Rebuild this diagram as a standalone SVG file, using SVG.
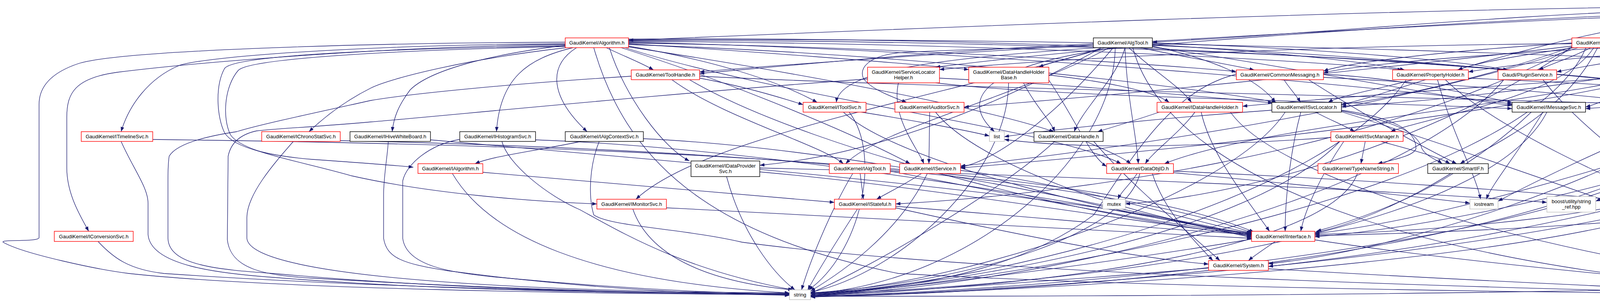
<svg xmlns="http://www.w3.org/2000/svg" width="5659" height="773" viewBox="0 0 5659 773">
<defs>
<marker id="a" markerUnits="userSpaceOnUse" markerWidth="13" markerHeight="10" refX="12" refY="5" orient="auto"><path d="M0,0.5 L12,5 L0,9.5 z" fill="#191970"/></marker>
</defs>
<style>
.n rect{stroke-width:1.4;fill:#fff}
.r rect{stroke:#ff0000}
.b rect{stroke:#000}
.g rect{stroke:#bfbfbf}
.root rect{fill:#bfbfbf;stroke:#000}
text{font-family:"Liberation Sans",Arial,Helvetica,sans-serif;font-size:13px;text-anchor:middle;fill:#000}
#edges path{fill:none;stroke:#191970;stroke-width:1.3;marker-end:url(#a)}
</style>
<rect width="5659" height="773" fill="#fff"/>
<g id="edges">
<path d="M4361,22 C3800,40 3400,85 2950,108"/>
<path d="M4361,16 C3500,25 2400,70 1609,103"/>
<path d="M4365,47 C4300,70 4200,85 4152,97"/>
<path d="M4470,47 C4500,70 4540,85 4566,97"/>
<path d="M4497,30 C4650,50 4760,75 4826,97"/>
<path d="M4497,26 C5000,40 5330,60 5400,100 C5470,140 5500,200 5507,262"/>
<path d="M4410,47 C4380,100 4320,140 4290,172"/>
<path d="M4361,30 C3600,60 2800,120 2395,172"/>
<path d="M4361,34 C3500,70 2300,140 1791,184"/>
<path d="M4436,47 C4450,150 4520,220 4494,262"/>
<path d="M4361,38 C3900,100 3600,230 3434,268"/>
<path d="M4380,47 C4300,150 4150,250 4059,274"/>
<path d="M4497,38 C4650,80 4720,200 4709,262"/>
<path d="M4497,44 C4900,150 5000,300 5000,600 C5000,700 4900,745 4789,752"/>
<path d="M4497,42 C4650,150 4700,390 4519,425"/>
<path d="M1447,112 C1000,114 550,140 460,167 C380,200 330,270 310,337"/>
<path d="M1447,114 C1000,118 500,160 300,185 C190,200 171,240 171,300 L171,430 C171,500 210,560 227,592"/>
<path d="M1447,108 C900,110 300,130 200,163 C120,190 100,230 100,267 L100,608 C100,620 0,612 8,620 C60,650 250,690 330,700 C700,740 1500,752 2021,754"/>
<path d="M1450,122 C1200,150 1000,200 950,225 C880,260 830,300 791,337"/>
<path d="M1447,116 C1250,140 1100,180 1050,230 C1020,270 1008,300 1004,337"/>
<path d="M1467,122 C1350,150 1280,200 1271,337"/>
<path d="M1476,122 C1400,170 1410,250 1503,337"/>
<path d="M1552,122 C1600,145 1640,160 1673,179"/>
<path d="M1447,117 C1000,125 600,140 575,175 C550,220 555,300 575,340 C600,380 700,400 800,408 C900,415 1000,422 1058,428"/>
<path d="M1447,119 C1000,128 640,150 610,180 C575,220 568,300 590,345 C620,390 760,410 900,450 C1100,495 1350,515 1528,522"/>
<path d="M1560,122 C1600,250 1700,380 1765,412"/>
<path d="M1609,118 C1800,150 1980,200 2092,262"/>
<path d="M1609,112 C1900,130 2300,160 2480,178"/>
<path d="M1609,110 C2300,120 2900,160 3165,183"/>
<path d="M1609,106 C2500,110 3300,150 3590,179"/>
<path d="M1609,104 C2600,100 3600,150 3845,179"/>
<path d="M1609,102 C3000,95 4400,150 4798,185"/>
<path d="M1609,114 C2400,140 3100,230 3268,262"/>
<path d="M1590,122 C1900,220 2200,350 2330,419"/>
<path d="M1609,108 C2600,130 3600,230 3871,266"/>
<path d="M1609,100 C3000,90 4300,200 4633,268"/>
<path d="M1600,122 C2000,250 2700,330 2870,419"/>
<path d="M1609,120 C2000,180 2500,270 2698,337"/>
<path d="M1520,122 C1600,400 1800,600 2300,700 C3000,740 4200,752 4731,754"/>
<path d="M2799,112 C2400,130 2000,170 1791,188"/>
<path d="M2920,122 C3000,140 3120,160 3211,179"/>
<path d="M2950,114 C3200,130 3450,150 3596,179"/>
<path d="M2950,110 C3300,120 3700,150 3860,179"/>
<path d="M2820,122 C2780,140 2700,155 2659,172"/>
<path d="M2810,122 C2400,150 2150,180 2141,262"/>
<path d="M2840,122 C2600,250 2250,330 2165,419"/>
<path d="M2890,122 C2950,180 3020,220 3050,262"/>
<path d="M2950,118 C3100,150 3220,200 3265,262"/>
<path d="M2950,120 C3300,170 3700,250 3871,270"/>
<path d="M2850,122 C2700,300 2550,410 2459,428"/>
<path d="M2830,122 C2400,250 1800,350 1628,510"/>
<path d="M2950,116 C3500,140 4400,220 4633,272"/>
<path d="M2880,122 C2860,200 2770,280 2750,337"/>
<path d="M2860,122 C2500,170 2460,260 2546,337"/>
<path d="M2900,122 C3000,500 3800,720 4731,750"/>
<path d="M2855,122 C2850,400 2500,720 2075,752"/>
<path d="M2799,118 C2600,124 2400,128 2300,135 C2220,145 2200,175 2210,200 C2230,230 2290,250 2321,262"/>
<path d="M2880,122 C2885,250 2910,350 2914,419"/>
<path d="M2820,122 C2500,300 2200,400 1945,423"/>
<path d="M4024,110 C3700,130 3450,160 3388,182"/>
<path d="M4030,122 C3900,140 3780,160 3732,179"/>
<path d="M4072,122 C4030,145 3980,160 3939,179"/>
<path d="M4024,112 C3400,115 2700,150 2405,178"/>
<path d="M4024,118 C3500,180 2800,250 2468,274"/>
<path d="M4040,122 C3500,300 2700,400 2459,425"/>
<path d="M4024,120 C3800,200 3550,255 3434,267"/>
<path d="M4080,122 C4000,250 3650,300 3560,337"/>
<path d="M4176,112 C4400,130 4580,230 4633,270"/>
<path d="M4090,122 C4000,300 3800,380 3738,419"/>
<path d="M4024,122 C3500,400 2700,500 2293,522"/>
<path d="M4150,122 C4200,400 4500,650 4735,745"/>
<path d="M4060,122 C3900,500 2600,720 2075,756"/>
<path d="M4024,121 C3700,350 3200,500 2881,522"/>
<path d="M4522,108 C4000,120 3500,160 3388,186"/>
<path d="M4522,112 C4200,130 3900,160 3759,184"/>
<path d="M4522,116 C4300,130 4100,160 3985,184"/>
<path d="M4578,122 C4540,170 4500,220 4466,262"/>
<path d="M4522,120 C4000,300 2800,400 2459,430"/>
<path d="M4522,118 C4200,200 3700,260 3434,272"/>
<path d="M4584,122 C4500,220 4200,270 4059,278"/>
<path d="M4672,118 C4800,130 4950,150 5000,163 C5020,185 5015,220 5000,235 C4950,260 4850,268 4793,272"/>
<path d="M4672,114 C4900,140 5130,150 5160,200 C5175,250 5160,300 5153,337"/>
<path d="M4672,112 C5300,200 5651,300 5651,620 C5651,720 5300,745 4789,756"/>
<path d="M4600,122 C4400,600 3000,740 2075,760"/>
<path d="M4894,122 L4894,179"/>
<path d="M4819,116 C4650,160 4560,230 4486,272"/>
<path d="M4969,115 C5100,150 5250,300 5260,500 C5260,650 5000,720 4789,750"/>
<path d="M5452,287 C5380,300 5280,320 5205,337"/>
<path d="M5494,287 C5300,450 4500,580 3366,603"/>
<path d="M5480,287 C5475,500 5475,600 5400,650 C5200,720 4900,745 4789,754"/>
<path d="M5525,287 C5530,500 5530,640 5450,680 C5000,750 3000,760 2075,758"/>
<path d="M4164,198 C3800,220 3300,260 3181,272"/>
<path d="M4164,205 C3800,280 3200,330 2981,419"/>
<path d="M1791,200 C1900,220 2000,250 2056,268"/>
<path d="M1720,204 C1850,300 2100,370 2159,419"/>
<path d="M1791,195 C2500,230 3800,250 4287,270"/>
<path d="M1616,195 C1300,215 1050,240 950,257 C800,290 660,320 606,337 C520,350 450,370 433,400 C430,420 430,440 430,460 L430,610 C432,680 560,690 700,700 C1200,745 1750,752 2021,752"/>
<path d="M1765,204 C2100,400 2900,580 3204,600"/>
<path d="M2405,200 C2800,220 3100,250 3258,263"/>
<path d="M2395,212 C2700,250 3500,260 3871,278"/>
<path d="M2300,212 C2280,300 2350,380 2365,419"/>
<path d="M2221,202 C1700,240 1100,300 950,312 C800,325 700,330 657,335 C610,345 590,370 584,400 L582,613 C590,690 680,705 800,712 C1300,742 1750,752 2021,752"/>
<path d="M2620,212 C2650,270 2690,310 2700,337"/>
<path d="M2685,192 C2800,205 2950,230 2993,262"/>
<path d="M2685,205 C2750,300 2790,400 2833,426"/>
<path d="M2582,212 C2580,450 2300,700 2075,748"/>
<path d="M3287,204 C3300,225 3320,245 3329,262"/>
<path d="M3388,190 C3600,200 3800,250 3871,262"/>
<path d="M3350,204 C3500,300 3650,380 3729,419"/>
<path d="M3165,190 C3000,230 2900,400 2800,550 C2600,700 2300,745 2075,750"/>
<path d="M3388,198 C3800,220 4150,250 4287,275"/>
<path d="M3617,204 C3520,230 3430,245 3400,262"/>
<path d="M3759,200 C4200,220 4550,240 4633,266"/>
<path d="M3700,204 C3900,400 4500,600 4740,742"/>
<path d="M3600,204 C3400,500 2600,720 2075,752"/>
<path d="M3680,204 C3720,350 3780,450 3790,510"/>
<path d="M3850,204 C3600,500 2700,730 2075,756"/>
<path d="M3950,204 C4100,400 4500,650 4745,742"/>
<path d="M4820,204 C4500,300 3800,550 3366,598"/>
<path d="M4880,204 C4800,400 4000,600 3247,682"/>
<path d="M2205,287 C2350,310 2480,335 2533,348"/>
<path d="M2159,287 C2300,420 2900,560 3204,597"/>
<path d="M2174,287 C2260,400 2200,650 2070,742"/>
<path d="M2380,287 L2378,419"/>
<path d="M2395,287 C2500,420 2900,560 3204,599"/>
<path d="M391,357 C1500,370 2800,420 3210,594"/>
<path d="M310,362 C340,430 379,480 379,520 L379,600 C385,680 560,700 700,710 C1100,742 1600,752 2021,752"/>
<path d="M871,360 C1800,380 2800,450 3206,596"/>
<path d="M751,362 C700,420 630,500 632,560 L632,610 C640,700 1200,745 2021,750"/>
<path d="M1102,358 C1800,420 2800,500 3204,604"/>
<path d="M994,362 C992,400 982,450 982,500 L982,610 C990,660 1030,675 1146,693 C1500,740 1800,752 2021,756"/>
<path d="M1371,358 C2000,380 2900,540 3204,606"/>
<path d="M1176,357 C1100,370 1040,420 1031,463 L1031,610 C1040,680 1150,700 1300,712 C1600,740 1850,750 2021,754"/>
<path d="M1285,362 C1300,420 1400,500 1485,537 C1600,600 1750,690 2030,742"/>
<path d="M1647,355 C2200,380 2900,540 3204,608"/>
<path d="M1534,362 C1510,420 1505,500 1520,550 C1560,580 1750,585 1900,620 C2500,700 3800,740 4731,756"/>
<path d="M1488,362 C1350,390 1260,400 1216,419"/>
<path d="M1236,441 C1600,470 1900,500 2136,518"/>
<path d="M1158,444 C1250,600 1500,720 2021,750"/>
<path d="M1706,532 C2300,560 2900,590 3204,610"/>
<path d="M1620,535 C1660,650 1800,720 2030,742"/>
<path d="M1945,440 C2400,480 2900,570 3204,602"/>
<path d="M1860,452 C1900,600 1980,700 2035,742"/>
<path d="M1945,430 C2800,450 3600,490 3960,518"/>
<path d="M2202,444 C2205,470 2208,490 2210,510"/>
<path d="M2183,444 C2120,550 2070,680 2052,742"/>
<path d="M2279,438 C2600,500 3000,580 3204,598"/>
<path d="M2359,444 C2320,470 2270,495 2244,510"/>
<path d="M2374,444 C2300,600 2150,700 2075,745"/>
<path d="M2459,436 C2800,480 3050,570 3204,596"/>
<path d="M2293,528 C2700,560 3000,590 3204,600"/>
<path d="M2195,535 C2140,620 2090,700 2068,742"/>
<path d="M2293,532 C2600,600 2900,660 3094,676"/>
<path d="M3059,287 C3020,340 2950,390 2932,419"/>
<path d="M2968,287 C2900,310 2850,325 2810,337"/>
<path d="M3075,287 C3100,400 3200,520 3250,592"/>
<path d="M3150,287 C3300,500 4200,700 4731,748"/>
<path d="M3368,287 C3400,305 3440,320 3468,337"/>
<path d="M3330,287 C3300,400 3290,520 3290,592"/>
<path d="M3434,284 C3570,310 3630,340 3640,380 C3650,400 3680,410 3692,419"/>
<path d="M3256,282 C3000,300 2700,330 2571,350"/>
<path d="M3434,282 C3560,300 3625,330 3625,380 C3620,400 3560,410 3527,419"/>
<path d="M3290,287 C3150,500 2500,720 2075,752"/>
<path d="M3434,286 C3800,400 4500,650 4735,742"/>
<path d="M3920,287 C3750,450 3500,570 3366,595"/>
<path d="M3950,287 C3880,400 3820,470 3805,510"/>
<path d="M3960,287 C3800,600 2800,730 2075,752"/>
<path d="M4370,287 C4150,450 3600,640 3247,675"/>
<path d="M4330,287 C4100,380 3900,480 3835,515"/>
<path d="M4420,287 C4300,600 2800,740 2075,758"/>
<path d="M4450,287 C4550,450 4700,650 4752,742"/>
<path d="M4720,287 C4900,310 5050,325 5070,337"/>
<path d="M4640,287 C4300,450 3700,580 3366,606"/>
<path d="M4715,287 C4700,600 2800,740 2075,760"/>
<path d="M4770,287 C4780,450 4770,650 4762,742"/>
<path d="M3495,362 L3484,419"/>
<path d="M3440,362 C3380,450 3340,540 3330,592"/>
<path d="M3535,362 C3600,380 3680,400 3712,419"/>
<path d="M3407,352 C3000,380 2750,380 2571,357"/>
<path d="M3430,362 C3200,600 2500,720 2075,755"/>
<path d="M2780,362 C2820,380 2870,400 2895,419"/>
<path d="M2700,362 C2550,500 2200,700 2075,750"/>
<path d="M2800,362 C2900,480 3050,600 3123,667"/>
<path d="M2911,444 C2895,470 2870,490 2862,510"/>
<path d="M3004,438 C3500,460 3900,490 4125,510"/>
<path d="M2918,444 C2880,600 2500,720 2075,750"/>
<path d="M3004,442 C3300,470 3600,500 3763,520"/>
<path d="M2950,444 C2980,540 3060,620 3105,667"/>
<path d="M3475,444 C3400,650 2600,740 2075,756"/>
<path d="M3720,444 C3600,520 3450,570 3370,592"/>
<path d="M4378,452 C4330,470 4260,495 4227,510"/>
<path d="M4400,452 C4200,550 3700,590 3366,600"/>
<path d="M4430,452 C4300,650 2800,740 2075,760"/>
<path d="M4450,452 C4600,550 4720,650 4752,742"/>
<path d="M4341,448 C4200,480 4120,500 4085,515"/>
<path d="M3265,618 C3240,635 3210,655 3196,667"/>
<path d="M3204,612 C2800,680 2300,740 2075,755"/>
<path d="M3366,614 C3800,680 4500,740 4731,752"/>
<path d="M3094,686 C2700,720 2300,745 2075,758"/>
<path d="M3247,688 C3800,720 4400,748 4731,756"/>
<path d="M251,618 C290,660 330,690 420,700 C1000,740 1700,750 2021,752"/>
</g>
<g id="n_root" class="n root"><rect x="4361" y="6" width="136" height="41"/><text x="4429" y="23">GaudiKernel/src/Lib</text><text x="4429" y="37">/AlgTool.cpp</text></g>
<g id="n_Algorithm" class="n r"><rect x="1447" y="97" width="162" height="25"/><text x="1528" y="114">GaudiKernel/Algorithm.h</text></g>
<g id="n_AlgTool" class="n b"><rect x="2799" y="97" width="151" height="25"/><text x="2874.5" y="114">GaudiKernel/AlgTool.h</text></g>
<g id="n_Service" class="n r"><rect x="4024" y="97" width="152" height="25"/><text x="4100" y="114">GaudiKernel/Service.h</text></g>
<g id="n_Auditor" class="n r"><rect x="4522" y="97" width="150" height="25"/><text x="4597" y="114">GaudiKernel/Auditor.h</text></g>
<g id="n_Guards" class="n r"><rect x="4819" y="97" width="150" height="25"/><text x="4894" y="114">GaudiKernel/Guards.h</text></g>
<g id="n_ToolHandle" class="n r"><rect x="1616" y="179" width="175" height="25"/><text x="1703.5" y="196">GaudiKernel/ToolHandle.h</text></g>
<g id="n_ServiceLocatorHelper" class="n r"><rect x="2221" y="172" width="184" height="40"/><text x="2313" y="189">GaudiKernel/ServiceLocator</text><text x="2313" y="203">Helper.h</text></g>
<g id="n_DataHandleHolderBase" class="n r"><rect x="2480" y="172" width="205" height="40"/><text x="2582.5" y="189">GaudiKernel/DataHandleHolder</text><text x="2582.5" y="203">Base.h</text></g>
<g id="n_CommonMessaging" class="n r"><rect x="3165" y="179" width="223" height="25"/><text x="3276.5" y="196">GaudiKernel/CommonMessaging.h</text></g>
<g id="n_PropertyHolder" class="n r"><rect x="3565" y="179" width="194" height="25"/><text x="3662" y="196">GaudiKernel/PropertyHolder.h</text></g>
<g id="n_PluginService" class="n r"><rect x="3835" y="179" width="150" height="25"/><text x="3910" y="196">Gaudi/PluginService.h</text></g>
<g id="n_DataHandleHolderVisitor" class="n r"><rect x="4164" y="172" width="203" height="40"/><text x="4265.5" y="189">GaudiKernel/DataHandleHolder</text><text x="4265.5" y="203">Visitor.h</text></g>
<g id="n_IExceptionSvc" class="n b"><rect x="4798" y="179" width="193" height="25"/><text x="4894.5" y="196">GaudiKernel/IExceptionSvc.h</text></g>
<g id="n_IToolSvc" class="n r"><rect x="2056" y="262" width="161" height="25"/><text x="2136.5" y="279">GaudiKernel/IToolSvc.h</text></g>
<g id="n_IAuditorSvc" class="n r"><rect x="2291" y="262" width="177" height="25"/><text x="2379.5" y="279">GaudiKernel/IAuditorSvc.h</text></g>
<g id="n_IDataHandleHolder" class="n r"><rect x="2962" y="262" width="219" height="25"/><text x="3071.5" y="279">GaudiKernel/IDataHandleHolder.h</text></g>
<g id="n_ISvcLocator" class="n b"><rect x="3256" y="262" width="178" height="25"/><text x="3345" y="279">GaudiKernel/ISvcLocator.h</text></g>
<g id="n_IMessageSvc" class="n b"><rect x="3871" y="262" width="188" height="25"/><text x="3965" y="279">GaudiKernel/IMessageSvc.h</text></g>
<g id="n_GaudiException" class="n r"><rect x="4287" y="262" width="199" height="25"/><text x="4386.5" y="279">GaudiKernel/GaudiException.h</text></g>
<g id="n_IProperty" class="n b"><rect x="4633" y="262" width="160" height="25"/><text x="4713" y="279">GaudiKernel/IProperty.h</text></g>
<g id="n_IJobOptionsSvc" class="n b"><rect x="5414" y="262" width="201" height="25"/><text x="5514.5" y="279">GaudiKernel/IJobOptionsSvc.h</text></g>
<g id="n_ITimelineSvc" class="n r"><rect x="208" y="337" width="183" height="25"/><text x="299.5" y="354">GaudiKernel/ITimelineSvc.h</text></g>
<g id="n_IChronoStatSvc" class="n r"><rect x="670" y="337" width="201" height="25"/><text x="770.5" y="354">GaudiKernel/IChronoStatSvc.h</text></g>
<g id="n_IHiveWhiteBoard" class="n b"><rect x="896" y="337" width="206" height="25"/><text x="999" y="354">GaudiKernel/IHiveWhiteBoard.h</text></g>
<g id="n_IHistogramSvc" class="n b"><rect x="1177" y="337" width="194" height="25"/><text x="1274" y="354">GaudiKernel/IHistogramSvc.h</text></g>
<g id="n_IAlgContextSvc" class="n b"><rect x="1447" y="337" width="200" height="25"/><text x="1547" y="354">GaudiKernel/IAlgContextSvc.h</text></g>
<g id="n_list" class="n g"><rect x="2533" y="337" width="38" height="25"/><text x="2552" y="354">list</text></g>
<g id="n_DataHandle" class="n b"><rect x="2647" y="337" width="177" height="25"/><text x="2735.5" y="354">GaudiKernel/DataHandle.h</text></g>
<g id="n_ISvcManager" class="n r"><rect x="3407" y="337" width="185" height="25"/><text x="3499.5" y="354">GaudiKernel/ISvcManager.h</text></g>
<g id="n_PropertyFwd" class="n b"><rect x="5054" y="337" width="182" height="25"/><text x="5145" y="354">GaudiKernel/PropertyFwd.h</text></g>
<g id="n_IAlgorithm" class="n r"><rect x="1070" y="419" width="166" height="25"/><text x="1153" y="436">GaudiKernel/IAlgorithm.h</text></g>
<g id="n_IDataProviderSvc" class="n b"><rect x="1769" y="412" width="176" height="40"/><text x="1857" y="429">GaudiKernel/IDataProvider</text><text x="1857" y="443">Svc.h</text></g>
<g id="n_IAlgTool" class="n r"><rect x="2123" y="419" width="156" height="25"/><text x="2201" y="436">GaudiKernel/IAlgTool.h</text></g>
<g id="n_IService" class="n r"><rect x="2303" y="419" width="156" height="25"/><text x="2381" y="436">GaudiKernel/IService.h</text></g>
<g id="n_DataObjID" class="n r"><rect x="2833" y="419" width="171" height="25"/><text x="2918.5" y="436">GaudiKernel/DataObjID.h</text></g>
<g id="n_TypeNameString" class="n r"><rect x="3374" y="419" width="206" height="25"/><text x="3477" y="436">GaudiKernel/TypeNameString.h</text></g>
<g id="n_SmartIF" class="n b"><rect x="3655" y="419" width="155" height="25"/><text x="3732.5" y="436">GaudiKernel/SmartIF.h</text></g>
<g id="n_IDataManagerSvc" class="n b"><rect x="4341" y="412" width="178" height="40"/><text x="4430" y="429">GaudiKernel/IDataManager</text><text x="4430" y="443">Svc.h</text></g>
<g id="n_IMonitorSvc" class="n r"><rect x="1528" y="510" width="178" height="25"/><text x="1617" y="527">GaudiKernel/IMonitorSvc.h</text></g>
<g id="n_IStateful" class="n r"><rect x="2136" y="510" width="157" height="25"/><text x="2214.5" y="527">GaudiKernel/IStateful.h</text></g>
<g id="n_mutex" class="n g"><rect x="2823" y="510" width="58" height="25"/><text x="2852" y="527">mutex</text></g>
<g id="n_iostream" class="n g"><rect x="3763" y="510" width="72" height="25"/><text x="3799" y="527">iostream</text></g>
<g id="n_string_ref" class="n g"><rect x="3960" y="503" width="125" height="40"/><text x="4022.5" y="520">boost/utility/string</text><text x="4022.5" y="534">_ref.hpp</text></g>
<g id="n_ClassID" class="n r"><rect x="4110" y="510" width="156" height="25"/><text x="4188" y="527">GaudiKernel/ClassID.h</text></g>
<g id="n_IConversionSvc" class="n r"><rect x="139" y="592" width="202" height="26"/><text x="240" y="610">GaudiKernel/IConversionSvc.h</text></g>
<g id="n_IInterface" class="n r"><rect x="3204" y="592" width="162" height="26"/><text x="3285" y="610">GaudiKernel/IInterface.h</text></g>
<g id="n_System" class="n r"><rect x="3094" y="667" width="153" height="25"/><text x="3170.5" y="684">GaudiKernel/System.h</text></g>
<g id="n_string" class="n g"><rect x="2021" y="742" width="54" height="25"/><text x="2048" y="759">string</text></g>
<g id="n_vector" class="n g"><rect x="4731" y="742" width="58" height="25"/><text x="4760" y="759">vector</text></g>
</svg>
